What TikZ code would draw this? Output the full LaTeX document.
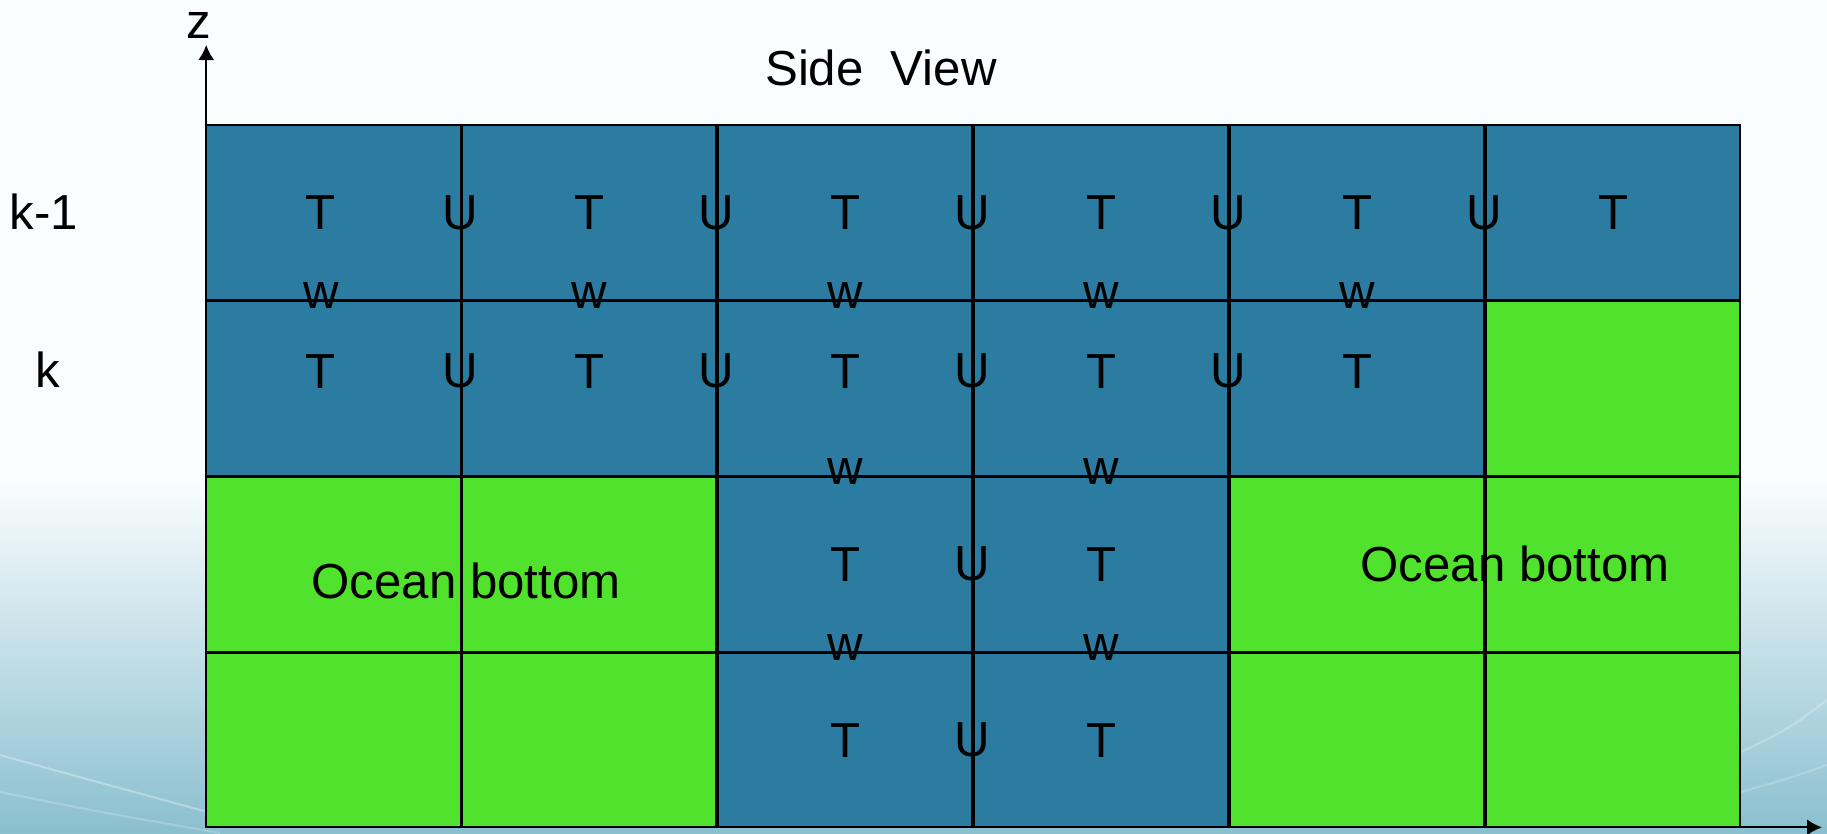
\documentclass[tikz,border=0pt]{standalone}
\usepackage{fontspec}
\setmainfont{Liberation Sans}
\usetikzlibrary{arrows.meta,positioning}
\definecolor{seablue}{RGB}{44,123,160}
\definecolor{landgreen}{RGB}{81,226,46}
\definecolor{bgtop}{RGB}{250,253,254}
\definecolor{bgmid}{RGB}{226,240,245}
\definecolor{bgbot}{RGB}{138,191,207}
\tikzset{
cell/.style={draw,line width=1pt,outer sep=0pt,inner sep=0pt,
  minimum width=5.12cm-1pt,minimum height=3.52cm-1pt},
sea/.style={cell,fill=seablue},
land/.style={cell,fill=landgreen},
wlab/.style={yshift=0.08cm},
raised/.style={yshift=0.34cm},
axis/.style={line width=1pt,-{Latex[length=0.3cm,width=0.32cm]}}
}
\begin{document}
\begin{tikzpicture}[x=0.02cm,y=-0.02cm,font=\fontsize{28}{34}\selectfont]
\useasboundingbox (0,0) rectangle (1827,833);
\fill[bgtop] (0,0) rectangle (1827,833);
\shade[top color=bgtop,middle color=bgmid,bottom color=bgbot] (0,480) rectangle (1827,833);
\draw[white,opacity=0.3,line width=1.2pt] (0,755) .. controls (90,780) .. (230,818);
\draw[white,opacity=0.2,line width=1.2pt] (0,792) .. controls (100,812) .. (220,833);
\draw[white,opacity=0.25,line width=1.2pt] (1741,752) .. controls (1790,728) .. (1827,700);
\draw[white,opacity=0.2,line width=1.2pt] (1741,792) .. controls (1790,778) .. (1827,765);

\matrix (grid) [anchor=north west,inner sep=0pt,column sep=0pt,row sep=0pt] at (205,124)
{
\node[sea] (c11) {}; & \node[sea] (c12) {}; & \node[sea] (c13) {}; & \node[sea] (c14) {}; & \node[sea] (c15) {}; & \node[sea] (c16) {};\\
\node[sea] (c21) {}; & \node[sea] (c22) {}; & \node[sea] (c23) {}; & \node[sea] (c24) {}; & \node[sea] (c25) {}; & \node[land] (c26) {};\\
\node[land] (c31) {}; & \node[land] (c32) {}; & \node[sea] (c33) {}; & \node[sea] (c34) {}; & \node[land] (c35) {}; & \node[land] (c36) {};\\
\node[land] (c41) {}; & \node[land] (c42) {}; & \node[sea] (c43) {}; & \node[sea] (c44) {}; & \node[land] (c45) {}; & \node[land] (c46) {};\\
};

% level k-1
\node (t11) at ([xshift=-0.26cm]c11) {T}; \node (t12) at (c12) {T}; \node (t13) at (c13) {T};
\node (t14) at (c14) {T}; \node (t15) at (c15) {T}; \node (t16) at (c16) {T};
\node (u11) at (c11.east) {U}; \node (u12) at (c12.east) {U}; \node (u13) at (c13.east) {U};
\node (u14) at (c14.east) {U}; \node (u15) at (c15.east) {U};
\node (w11) [wlab] at ([xshift=-0.24cm]c11.south) {w}; \node (w12) [wlab] at (c12.south) {w};
\node (w13) [wlab] at (c13.south) {w}; \node (w14) [wlab] at (c14.south) {w};
\node (w15) [wlab] at (c15.south) {w};

% level k
\node (t21) [raised] at ([xshift=-0.26cm]c21) {T}; \node (t22) [raised] at (c22) {T};
\node (t23) [raised] at (c23) {T}; \node (t24) [raised] at (c24) {T}; \node (t25) [raised] at (c25) {T};
\node (u21) [raised] at (c21.east) {U}; \node (u22) [raised] at (c22.east) {U};
\node (u23) [raised] at (c23.east) {U}; \node (u24) [raised] at (c24.east) {U};
\node (w23) [wlab] at (c23.south) {w}; \node (w24) [wlab] at (c24.south) {w};

% deep cells
\node (t33) at (c33) {T}; \node (t34) at (c34) {T}; \node (u33) at (c33.east) {U};
\node (w33) [wlab] at (c33.south) {w}; \node (w34) [wlab] at (c34.south) {w};
\node (t43) at (c43) {T}; \node (t44) at (c44) {T}; \node (u43) at (c43.east) {U};

\node (botl) at ([xshift=0.08cm,yshift=-0.34cm]c32.west) {Ocean bottom};
\node (botr) at ([xshift=0.58cm]c36.west) {Ocean bottom};

\node (km1) at (44,212) {k-1};
\node (kk) at (48,370) {k};
\node (title) at (881,68) {Side\ \ View};

\coordinate (orig) at (c41.south west);
\coordinate (ztip) at (orig |- 0,45);
\coordinate (xtip) at (orig -| 1822,0);
\draw[axis] (orig) -- (ztip);
\draw[axis] (orig) -- (xtip);
\node (zlab) at (199,25) {z};
\end{tikzpicture}
\end{document}
